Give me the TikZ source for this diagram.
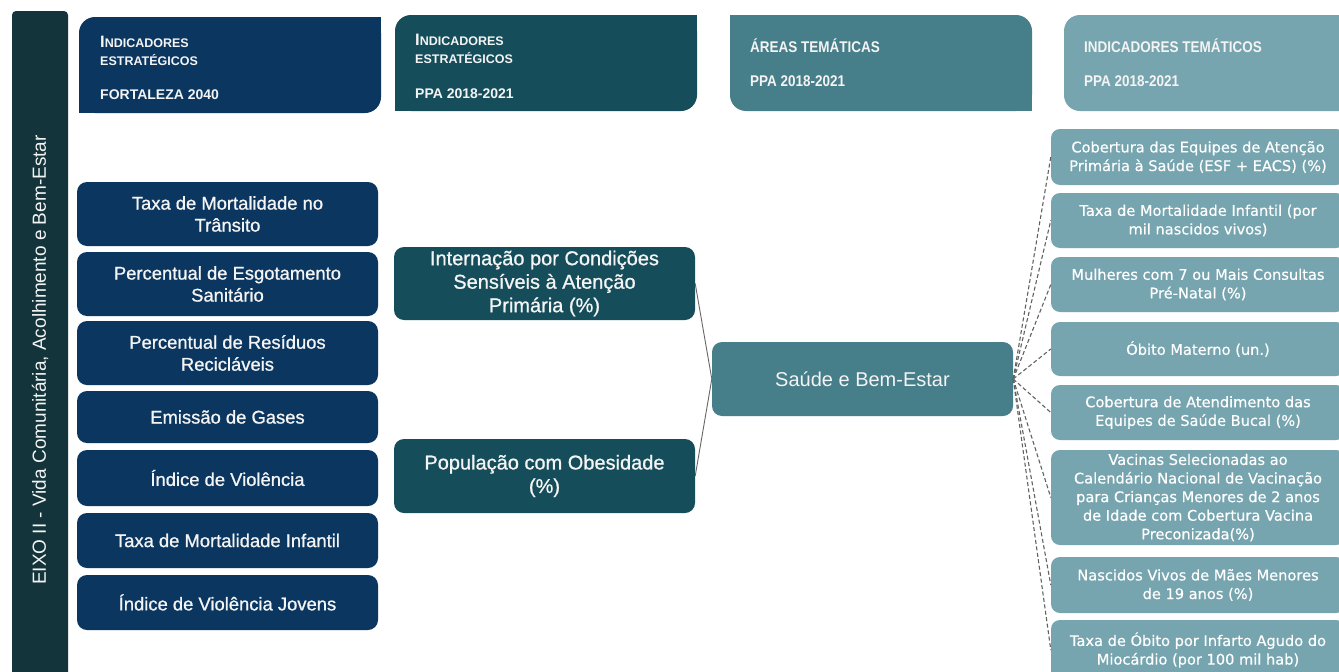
\documentclass[tikz,border=0pt]{standalone}
\usepackage{fontspec}
\setmainfont{Liberation Sans}
\newfontfamily\rfont[FakeBold=0.4]{DejaVu Sans}
\newfontfamily\mfont[FakeBold=0.9]{Liberation Sans}
\newfontfamily\cfont[FakeStretch=0.87]{Liberation Sans}
\definecolor{cnavy}{HTML}{0A3660}
\definecolor{cteal}{HTML}{154E5A}
\definecolor{cmid}{HTML}{467E8A}
\definecolor{clight}{HTML}{76A5AF}
\definecolor{cbar}{HTML}{12343A}
\definecolor{ctext}{HTML}{F4F4F4}
\begin{document}
\begin{tikzpicture}[x=1pt,y=-1pt,
  navybox/.style={fill=cnavy, rounded corners=10pt, text=ctext, align=center,
    minimum width=301pt, inner sep=0pt, font=\mfont\fontsize{18.4}{22}\selectfont},
  tealbox/.style={fill=cteal, rounded corners=10pt, text=ctext, align=center,
    minimum width=301pt, inner sep=0pt, font=\mfont\fontsize{20}{23.5}\selectfont},
  midbox/.style={fill=cmid, rounded corners=10pt, text=ctext, align=center,
    minimum width=301pt, inner sep=0pt, font=\fontsize{20}{23.5}\selectfont},
  lightbox/.style={fill=clight, rounded corners=9pt, text=white, align=center,
    minimum width=294pt, inner sep=0pt, font=\rfont\fontsize{14.6}{18.6}\selectfont},
  hdr/.style={anchor=base west, inner sep=0pt, text=ctext, font=\bfseries\fontsize{14}{14}\selectfont},
  hdrc/.style={anchor=base west, inner sep=0pt, text=ctext, font=\cfont\bfseries\fontsize{15.5}{15.5}\selectfont},
  conn/.style={draw=black!60, line width=0.9pt},
  dconn/.style={draw=black!62, line width=1.1pt, dash pattern=on 4pt off 2.5pt}
]
\clip (0,0) rectangle (1339,672);
\fill[white] (0,0) rectangle (1339,672);

% left vertical bar
\fill[cbar, rounded corners=4pt] (12,11) rectangle (68,700);
\node[rotate=90, text=ctext, font=\fontsize{19}{19}\selectfont, inner sep=0pt] (eixo) at (40,360)
  {EIXO II - Vida Comunitária, Acolhimento e Bem-Estar};

% header backgrounds
\fill[cnavy, rounded corners=16pt] (79,17) rectangle (381,113);
\fill[cnavy] (230,17) rectangle (381,65);
\fill[cnavy] (79,65) rectangle (230,113);

\fill[cteal, rounded corners=16pt] (395,15) rectangle (697,111);
\fill[cteal] (546,15) rectangle (697,63);
\fill[cteal] (395,63) rectangle (546,111);

\fill[cmid, rounded corners=16pt] (730,15) rectangle (1032,111);
\fill[cmid] (730,15) rectangle (881,63);
\fill[cmid] (881,63) rectangle (1032,111);

\fill[clight, rounded corners=16pt] (1064,15) rectangle (1380,111);
\fill[clight] (1200,15) rectangle (1380,111);

% header texts
\node[hdr] (h1a) at (100,47) {{\fontsize{16.5}{16}\selectfont I}{\fontsize{12.5}{12}\selectfont NDICADORES}};
\node[hdr] (h1b) at (100,65) {{\fontsize{12.5}{12}\selectfont ESTRATÉGICOS}};
\node[hdr] (h1c) at (100,99) {FORTALEZA 2040};

\node[hdr] (h2a) at (415,45) {{\fontsize{16.5}{16}\selectfont I}{\fontsize{12.5}{12}\selectfont NDICADORES}};
\node[hdr] (h2b) at (415,63) {{\fontsize{12.5}{12}\selectfont ESTRATÉGICOS}};
\node[hdr] (h2c) at (415,98) {PPA 2018-2021};

\node[hdrc] (h3a) at (750,52) {ÁREAS TEMÁTICAS};
\node[hdrc] (h3b) at (750,86) {PPA 2018-2021};

\node[hdrc] (h4a) at (1084,52) {INDICADORES TEMÁTICOS};
\node[hdrc] (h4b) at (1084,86) {PPA 2018-2021};

% left column
\node[navybox, minimum height=64pt] (l1) at (227.5,214) {Taxa de Mortalidade no\\Trânsito};
\node[navybox, minimum height=64pt] (l2) at (227.5,284) {Percentual de Esgotamento\\Sanitário};
\node[navybox, minimum height=64pt] (l3) at (227.5,353) {Percentual de Resíduos\\Recicláveis};
\node[navybox, minimum height=52pt] (l4) at (227.5,417) {Emissão de Gases};
\node[navybox, minimum height=56pt] (l5) at (227.5,478) {Índice de Violência};
\node[navybox, minimum height=55pt] (l6) at (227.5,540.5) {Taxa de Mortalidade Infantil};
\node[navybox, minimum height=55pt] (l7) at (227.5,602.5) {Índice de Violência Jovens};

% middle column
\node[tealbox, minimum height=73pt] (mA) at (544.5,283.5) {Internação por Condições\\Sensíveis à Atenção\\Primária (\%)};
\node[tealbox, minimum height=74pt] (mB) at (544.5,476) {População com Obesidade\\(\%)};

% thematic area
\node[midbox, minimum height=74pt] (sb) at (862.5,379) {Saúde e Bem-Estar};

% right column
\node[lightbox, minimum height=56pt] (r1) at (1198,157) {Cobertura das Equipes de Atenção\\Primária à Saúde (ESF + EACS) (\%)};
\node[lightbox, minimum height=55pt] (r2) at (1198,220.5) {Taxa de Mortalidade Infantil (por\\mil nascidos vivos)};
\node[lightbox, minimum height=55pt] (r3) at (1198,284.5) {Mulheres com 7 ou Mais Consultas\\Pré-Natal (\%)};
\node[lightbox, minimum height=54pt] (r4) at (1198,349) {Óbito Materno (un.)};
\node[lightbox, minimum height=55pt] (r5) at (1198,412.5) {Cobertura de Atendimento das\\Equipes de Saúde Bucal (\%)};
\node[lightbox, minimum height=95pt] (r6) at (1198,497.5) {Vacinas Selecionadas ao\\Calendário Nacional de Vacinação\\para Crianças Menores de 2 anos\\de Idade com Cobertura Vacina\\Preconizada(\%)};
\node[lightbox, minimum height=56pt] (r7) at (1198,585) {Nascidos Vivos de Mães Menores\\de 19 anos (\%)};
\node[lightbox, minimum height=60pt] (r8) at (1198,650) {Taxa de Óbito por Infarto Agudo do\\Miocárdio (por 100 mil hab)};

% connectors
\draw[conn] (mA.east) -- (sb.west);
\draw[conn] (mB.east) -- (sb.west);
\foreach \r in {r1,r2,r3,r4,r5,r6,r7,r8}
  \draw[dconn] (sb.east) -- (\r.west);
\end{tikzpicture}
\end{document}
